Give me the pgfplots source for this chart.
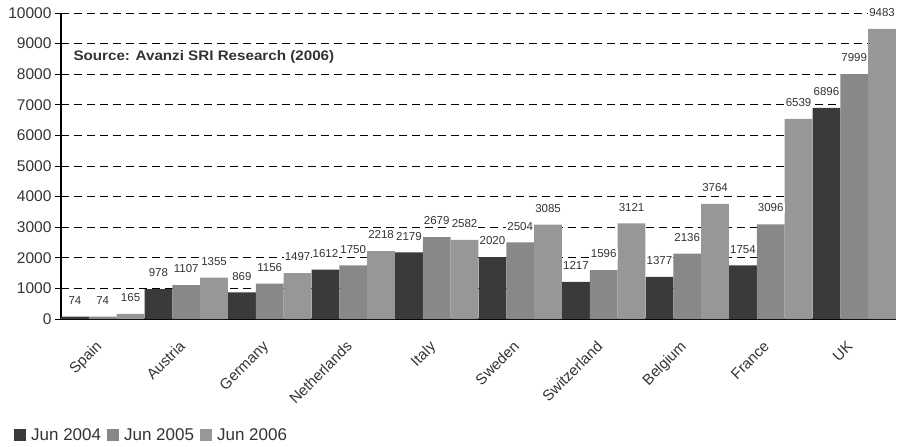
\documentclass[border=0pt]{standalone}
\usepackage{fontspec}
\setmainfont{Liberation Sans}
\newfontfamily\widefont[FakeStretch=1.1]{Liberation Sans}
\usepackage{pgfplots}
\pgfplotsset{compat=1.18}
\definecolor{cA}{HTML}{3A3A3A}
\definecolor{cB}{HTML}{888888}
\definecolor{cC}{HTML}{979797}
\definecolor{txt}{HTML}{333333}
\begin{document}
\begin{tikzpicture}
\path[use as bounding box] (-61pt,-128pt) rectangle (836pt,319pt);
\begin{axis}[
  at={(0pt,0pt)}, anchor=south west,
  scale only axis, width=835pt, height=306pt,
  xmin=-0.5, xmax=9.5, ymin=0, ymax=10000,
  ybar=0pt, bar width=27.83pt,
  axis lines*=left,
  axis line style={black, line width=1.2pt},
  ytick={0,1000,...,10000},
  ymajorgrids,
  grid style={black, line width=0.7pt, dash pattern=on 8pt off 5pt},
  ytick style={black, line width=0.8pt},
  tick align=outside, major tick length=6pt,
  xtick={0,...,9},
  xticklabels={Spain,Austria,Germany,Netherlands,Italy,Sweden,Switzerland,Belgium,France,UK},
  major x tick style={draw=none},
  extra x ticks={-0.5,0.5,1.5,2.5,3.5,4.5,5.5,6.5,7.5,8.5,9.5},
  extra x tick labels={},
  extra x tick style={major x tick style={black, line width=0.8pt}, major tick length=7pt},
  scaled y ticks=false,
  /pgf/number format/assume math mode=true,
  /pgf/number format/1000 sep={},
  yticklabel style={font=\fontsize{15.5}{17}\selectfont, text=txt},
  xticklabel style={font=\fontsize{15}{17}\selectfont, text=txt, xshift=-8pt, yshift=-10pt, rotate=45, anchor=north east},
  nodes near coords,
  every node near coord/.append style={font=\fontsize{11.5}{13}\selectfont, text=txt, fill=white, inner sep=1pt, yshift=11pt},
  legend columns=-1,
  legend style={at={(-0.0563,-0.379)}, anchor=west, draw=none, fill=none,
    font=\fontsize{17}{19}\selectfont, text=txt, inner sep=0pt,
    nodes={inner sep=1pt},
    /tikz/every odd column/.append style={column sep=4pt},
    /tikz/every even column/.append style={column sep=5pt}},
  legend image code/.code={\fill[#1] (0pt,-6pt) rectangle (12pt,6pt);},
]
\addplot[fill=cA, draw=none] coordinates {(0,74) (1,978) (2,869) (3,1612) (4,2179) (5,2020) (6,1217) (7,1377) (8,1754) (9,6896)};
\addplot[fill=cB, draw=none] coordinates {(0,74) (1,1107) (2,1156) (3,1750) (4,2679) (5,2504) (6,1596) (7,2136) (8,3096) (9,7999)};
\addplot[fill=cC, draw=none] coordinates {(0,165) (1,1355) (2,1497) (3,2218) (4,2582) (5,3085) (6,3121) (7,3764) (8,6539) (9,9483)};
\legend{Jun 2004,Jun 2005,Jun 2006}
\node[anchor=west, font=\widefont\bfseries\fontsize{13.8}{15}\selectfont, text=txt] at (axis cs:-0.5,8560) [xshift=9pt] {Source: Avanzi SRI Research (2006)};
\end{axis}
\end{tikzpicture}
\end{document}
